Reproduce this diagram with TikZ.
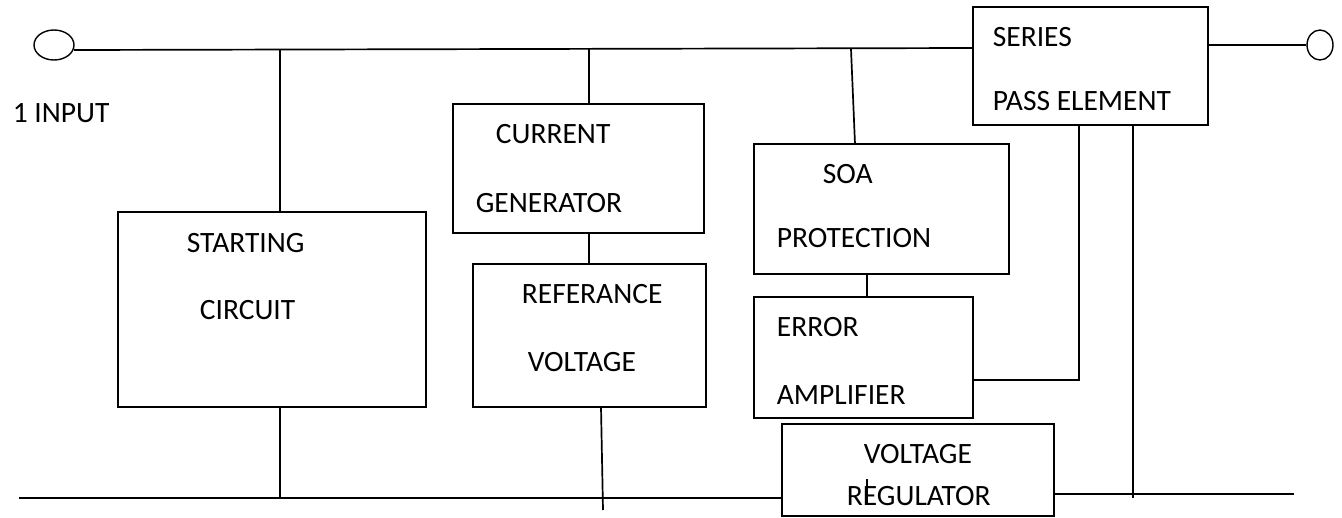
\documentclass[tikz,border=0pt]{standalone}
\usepackage{fontspec}
\setmainfont{Carlito}
\usetikzlibrary{positioning,shapes.geometric}

\begin{document}
\begin{tikzpicture}[x=1pt, y=-1pt, line width=1.7pt,
  blk/.style 2 args={draw, rectangle, inner sep=0pt, minimum width=#1pt, minimum height=#2pt},
  term/.style 2 args={draw, ellipse, inner sep=0pt, line width=1.4pt, minimum width=#1pt, minimum height=#2pt},
  lbl/.style={anchor=base west, inner sep=0pt, font=\fontsize{29.5}{35}\selectfont}]
  \useasboundingbox (0,0) rectangle (1342,517);

  % terminals
  \node[term={40}{30}] (inp) at (54,45) {};
  \node[term={26}{30}] (outp) at (1320,45) {};

  % blocks
  \node[blk={308}{195}] (start) at (272,309.5) {};
  \node[blk={251}{129}] (curgen) at (578.5,168.5) {};
  \node[blk={233}{143}] (refv) at (589.5,335.5) {};
  \node[blk={255}{130}] (soa) at (881.5,209) {};
  \node[blk={219}{121}] (erramp) at (863.5,357.5) {};
  \node[blk={272}{92}] (vreg) at (918,470) {};
  \node[blk={235}{118}] (series) at (1090.5,66) {};

  \foreach \nm/\x/\y/\txt in {tin/12/122/1 INPUT, tst/186/252/STARTING, tci/199/319/CIRCUIT,
      tcu/495/143/CURRENT, tge/475/212/GENERATOR, tre/521/303/REFERANCE, tvo/527/371/VOLTAGE,
      tso/822/183/SOA, tpr/776/247/PROTECTION, ter/776/336/ERROR, tam/776/404/AMPLIFIER,
      tvr/863/463/VOLTAGE, trg/846/505/REGULATOR, tse/992/46/SERIES, tpa/992/110/PASS ELEMENT}
    \node[lbl] (\nm) at (\x,\y) {\txt};

  % rails and junctions
  \coordinate (tl) at (74,50);
  \coordinate (tr) at (973,48);
  \coordinate (j1) at (280,49);
  \coordinate (j2) at (589,49);
  \coordinate (j3) at (851,49);
  \coordinate (j4) at (855,144);
  \coordinate (j5) at (867,0);
  \coordinate (e1) at (973,380);
  \coordinate (e2) at (1079,380);
  \coordinate (s1) at (1133,125);
  \coordinate (s2) at (1133,498);
  \coordinate (bl) at (19,498);
  \coordinate (bm) at (782,498);
  \coordinate (br1) at (1054,494);
  \coordinate (br2) at (1294,494);
  \coordinate (r1) at (601,407);
  \coordinate (r2) at (603,510);
  \coordinate (c1) at (867,479);
  \coordinate (c2) at (867,505);

  \draw (tl) -- (tr);
  \draw (series.east |- outp.west) -- (outp.west);
  \draw (j1) -- (j1 |- start.north);
  \draw (j1 |- start.south) -- (j1 |- bl);
  \draw (j2) -- (j2 |- curgen.north);
  \draw (j2 |- curgen.south) -- (j2 |- refv.north);
  \draw (r1) -- (r2);
  \draw (j3) -- (j4);
  \draw (j5 |- soa.south) -- (j5 |- erramp.north);
  \draw (e1) -- (e2) -- (e2 |- series.south);
  \draw (s1) -- (s2);
  \draw (bl) -- (bm);
  \draw (br1) -- (br2);
  \draw[line width=1.4pt] (c1) -- (c2);
\end{tikzpicture}
\end{document}
